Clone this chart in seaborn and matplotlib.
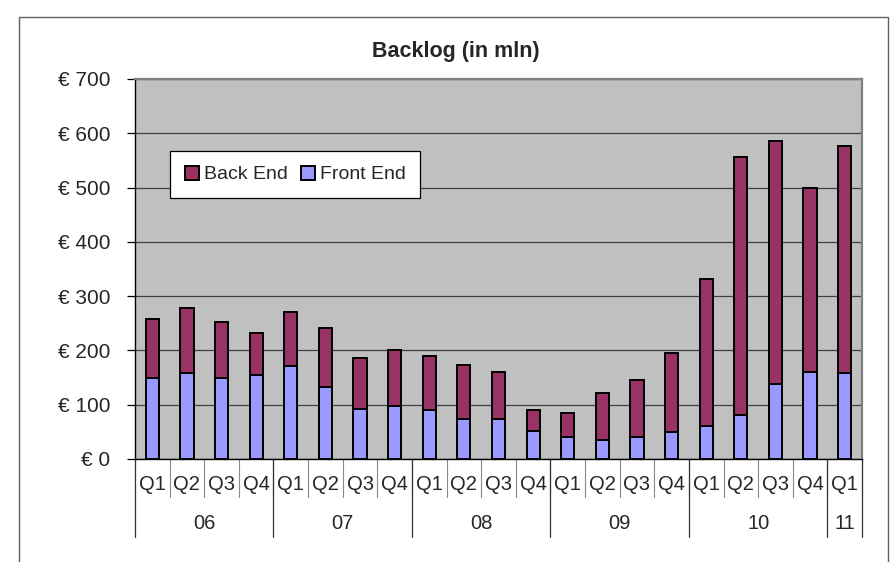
import numpy as np
import pandas as pd
import seaborn as sns
import matplotlib
matplotlib.use("Agg")
import matplotlib.pyplot as plt
from matplotlib.patches import Patch, Rectangle
from matplotlib.ticker import FixedLocator, FuncFormatter
from matplotlib.transforms import blended_transform_factory

# Backlog per quarter, in millions of euro
years = ["06", "07", "08", "09", "10", "11"]
quarters_per_year = [4, 4, 4, 4, 4, 1]
quarter_labels = ["Q1", "Q2", "Q3", "Q4"] * 5 + ["Q1"]
front_end = [149, 159, 150, 155, 171, 133, 93, 98, 90, 74, 74, 52,
             40, 35, 41, 49, 61, 81, 138, 160, 159]
back_end = [108, 120, 102, 78, 99, 109, 93, 102, 99, 100, 86, 38,
            45, 86, 104, 146, 271, 475, 448, 339, 418]
y_ticks = [0, 100, 200, 300, 400, 500, 600, 700]

color_back = "#993366"
color_front = "#9999FF"
plot_bg = "#C0C0C0"

sns.set_style("white")
plt.rcParams["font.family"] = ["Liberation Sans", "DejaVu Sans"]

periods = []
for yr, n in zip(years, quarters_per_year):
    for q in quarter_labels[len(periods):len(periods) + n]:
        periods.append(f"{yr} {q}")

df = pd.DataFrame({
    "period": periods,
    "front": front_end,
    "back": back_end,
})
df["total"] = df["front"] + df["back"]

fig = plt.figure(figsize=(8.92, 5.62), dpi=100)
ax = fig.add_axes([135 / 892, 103 / 562, 727 / 892, 380 / 562])
ax.set_facecolor(plot_bg)

# outer chart frame
fig.patches.append(Rectangle((19 / 892, -0.2), (888 - 19) / 892, 1.2 - 17 / 562,
                             transform=fig.transFigure, fill=False,
                             edgecolor="#606060", linewidth=1.0, zorder=0))

bar_kw = dict(width=0.38, edgecolor="black", linewidth=1.4, ax=ax,
              order=periods, zorder=3)
sns.barplot(data=df, x="period", y="total", color=color_back, saturation=1, **bar_kw)
sns.barplot(data=df, x="period", y="front", color=color_front, saturation=1, **bar_kw)

ax.set_ylim(0, 700)
ax.set_xlim(-0.5, len(periods) - 0.5)
ax.yaxis.set_major_locator(FixedLocator(y_ticks))
ax.yaxis.set_major_formatter(FuncFormatter(lambda v, p: f"\u20ac {int(v)}"))
ax.grid(axis="y", color="#404040", linewidth=0.9, zorder=1)
ax.set_axisbelow(True)
ax.tick_params(axis="y", direction="out", length=6, width=0.9, color="black",
               labelsize=15, pad=12, left=True)
ax.tick_params(axis="x", bottom=False, labelbottom=False)
ax.set_xlabel("")
ax.set_ylabel("")

for side in ("left", "bottom"):
    ax.spines[side].set_color("black")
    ax.spines[side].set_linewidth(1.0)
for side in ("top", "right"):
    ax.spines[side].set_color("#808080")
    ax.spines[side].set_linewidth(1.6)

# two-level category axis: quarters and years
tr = blended_transform_factory(ax.transData, ax.transAxes)
for i, q in enumerate(quarter_labels):
    ax.text(i, -0.068, q, transform=tr, ha="center", va="center", fontsize=14.5)
    ax.plot([i + 0.5, i + 0.5], [0, -0.1], transform=tr, color="#8a8a8a",
            linewidth=0.8, clip_on=False)

start = 0
ax.plot([-0.5, -0.5], [0, -0.205], transform=tr, color="#333333",
        linewidth=0.9, clip_on=False)
for yr, n in zip(years, quarters_per_year):
    end = start + n
    ax.text((start + end - 1) / 2, -0.171, yr, transform=tr, ha="center",
            va="center", fontsize=14.5)
    ax.plot([end - 0.5, end - 0.5], [0, -0.205], transform=tr, color="#333333",
            linewidth=0.9, clip_on=False)
    start = end

fig.text(456 / 892, 1 - 51 / 562, "Backlog (in mln)", ha="center", va="center",
         fontsize=15.5, fontweight="bold")

handles = [Patch(facecolor=color_back, edgecolor="black", linewidth=1.4, label="Back End"),
           Patch(facecolor=color_front, edgecolor="black", linewidth=1.4, label="Front End")]
leg = fig.legend(handles=handles, ncol=2, loc="upper left",
                 bbox_to_anchor=(170 / 892, 1 - 151 / 562), frameon=True,
                 fancybox=False, edgecolor="black", framealpha=1,
                 fontsize=14, handlelength=0.75, handleheight=0.75,
                 handletextpad=0.25, columnspacing=0.65, borderpad=0.75,
                 borderaxespad=0)
leg.get_frame().set_linewidth(0.9)

fig.savefig("out.png", dpi=100, facecolor="white")
